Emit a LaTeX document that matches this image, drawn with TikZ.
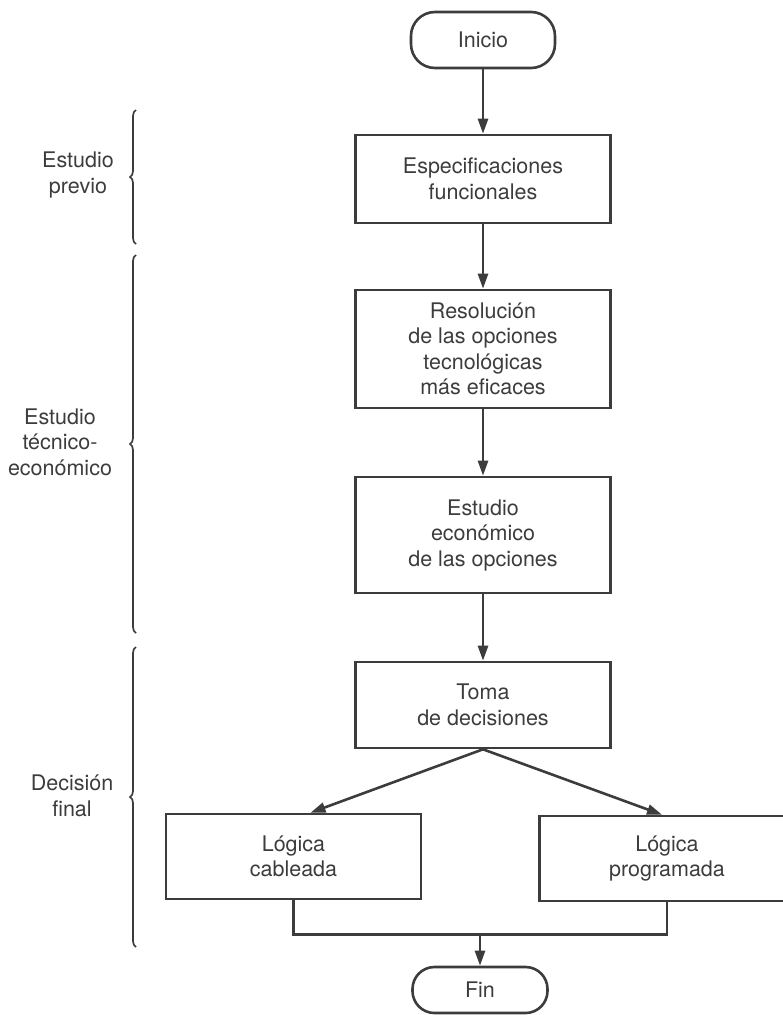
\documentclass[tikz,border=0pt]{standalone}
\usepackage{fontspec}
\setmainfont{TeX Gyre Heros}
\usetikzlibrary{arrows.meta,decorations.pathreplacing}
\definecolor{ink}{HTML}{3c3c3c}

\begin{document}
\begin{tikzpicture}[x=1pt, y=-1pt,
    font=\fontsize{21.5}{25.5}\selectfont, text=ink,
    caja/.style={draw=ink, line width=2.6pt, minimum width=255pt, align=center, inner sep=0pt},
    terminal/.style={draw=ink, line width=2.6pt, rounded corners=24pt, minimum width=144pt, minimum height=56pt},
    flecha/.style={draw=ink, line width=2.6pt, -{Triangle[length=15pt,width=10pt]}},
    linea/.style={draw=ink, line width=2.6pt},
    llave/.style={draw=ink, line width=1.7pt, decorate, decoration={brace, amplitude=6pt}},
    etapa/.style={align=center}]
    \useasboundingbox (0,0) rectangle (783,1015);
    \clip (0,0) rectangle (783,1015);
    % flujo principal
    \node[terminal] (inicio) at (483,40) {Inicio};
    \node[caja, minimum height=88pt ] (espec)      at (483,179)   {Especificaciones\\funcionales};
    \node[caja, minimum height=118pt] (resol)      at (483,349)   {Resolución\\de las opciones\\tecnológicas\\más eficaces};
    \node[caja, minimum height=116pt] (econ)       at (483,535)   {Estudio\\económico\\de las opciones};
    \node[caja, minimum height=86pt ] (toma)       at (483,705)   {Toma\\de decisiones};
    \node[caja, minimum height=85pt ] (cableada)   at (293.5,856.5) {Lógica\\cableada};
    \node[caja, minimum height=85pt ] (programada) at (667,858.5) {Lógica\\programada};
    \node[terminal, minimum width=135pt, minimum height=46pt, rounded corners=22pt] (fin) at (480,990) {Fin};
    \coordinate (union) at (480,933);
    \draw[flecha] (inicio) -- (espec);
    \draw[flecha] (espec)  -- (resol);
    \draw[flecha] (resol)  -- (econ);
    \draw[flecha] (econ)   -- (toma);
    \draw[flecha] (toma.south) -- ([xshift=17pt]cableada.north);
    \draw[flecha] (toma.south) -- ([xshift=-5pt]programada.north);
    \draw[linea]  (cableada.south) -- ++(0,34) -| (programada.south);
    \draw[flecha] (union) -- (fin);
    % etapas
    \draw[llave] (136,244) -- (136,110);
    \draw[llave] (136,633) -- (136,255);
    \draw[llave] (136,947) -- (136,647);
    \node[etapa] (previo)  at (78,175) {Estudio\\previo};
    \node[etapa] (tecnico) at (60,442) {Estudio\\técnico-\\económico};
    \node[etapa] (final)   at (72,796) {Decisión\\final};
\end{tikzpicture}
\end{document}
